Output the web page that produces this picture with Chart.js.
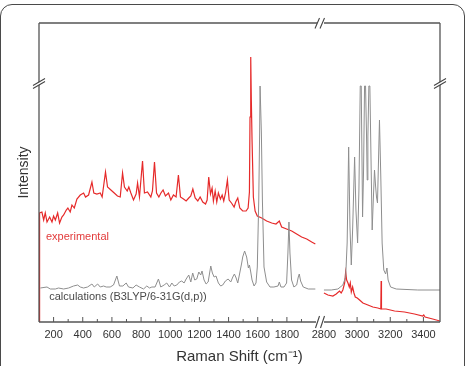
<!DOCTYPE html>
<html>
<head>
<meta charset="utf-8">
<script src="https://cdn.jsdelivr.net/npm/chart.js@4.4.0/dist/chart.umd.min.js"></script>
<style>
  html, body { margin: 0; padding: 0; background: #fff; overflow: hidden; }
  #wrap { position: relative; width: 467px; height: 366px; }
  #frame { position: absolute; left: 0; top: 4px; width: 463px; height: 390px;
           border: 1.5px solid #4a4a4a; border-radius: 12px; }
  canvas { position: absolute; left: 0; top: 0; }
</style>
</head>
<body>
<div id="wrap">
  <div id="frame"></div>
  <canvas id="chart" width="467" height="366"></canvas>
</div>
<script>
// Raman spectrum, broken x axis (100-2000 | 2800-3500), arbitrary intensity units

// experimental, low-wavenumber part
const expLeftX = [102,104,120,132,143,155,173,189,200,212,
  228,241,257,269,287,298,314,326,342,360,
  383,406,419,440,463,476,497,520,533,556,
  570,593,616,638,657,673,686,705,716,730,
  748,766,776,789,810,823,844,867,878,892,
  906,922,936,951,967,988,1004,1022,1040,1056,
  1070,1091,1109,1127,1141,1155,1171,1189,1205,1223,
  1242,1253,1264,1276,1287,1296,1308,1319,1330,1344,
  1356,1367,1379,1392,1404,1420,1438,1449,1463,1477,
  1497,1520,1534,1543,1547,1552,1556,1561,1570,1582,
  1597,1627,1661,1696,1725,1748,1764,1798,1833,1867,
  1901,1936,1970,1995];
const expLeftY = [0,109,110,102,109,100,105,100,106,102,
  109,99,105,107,112,114,110,117,114,123,
  127,129,125,127,140,129,128,129,125,150,
  135,132,129,126,125,149,135,131,135,129,
  122,128,139,125,161,129,130,125,131,160,
  129,125,129,132,126,129,122,127,125,147,
  125,123,121,124,126,133,124,121,125,120,
  118,122,145,128,134,121,131,120,129,123,
  127,121,129,142,122,119,115,120,124,114,
  111,111,114,130,205,265,222,182,125,111,
  106,104,101,99,98,101,95,93,91,88,
  85,83,80,78];

// experimental, C-H stretch part
const expRightX = [2800,2824,2854,2874,2894,2904,2914,2925,2931,2937,
  2945,2953,2959,2965,2973,2981,2989,3001,3015,3035,
  3065,3095,3125,3143,3145,3147,3175,3226,3286,3346,
  3396,3402,3410,3456,3500];
const expRightY = [29,27,26,28,31,29,32,39,50,42,
  39,35,39,30,35,29,25,24,22,19,
  17,15,14,13,41,13,13,11,10,8,
  6,7,5,3,1];

// calculated B3LYP/6-31G(d,p), low-wavenumber part
const calcLeftX = [109,155,177,212,234,269,303,337,365,383,
  406,433,463,479,502,520,543,561,588,611,
  634,652,675,698,714,744,766,789,817,839,
  858,874,896,919,935,958,976,995,1011,1027,
  1045,1063,1079,1095,1109,1127,1141,1154,1168,1182,
  1196,1209,1218,1232,1246,1260,1269,1278,1289,1301,
  1314,1330,1346,1360,1378,1397,1415,1429,1440,1452,
  1463,1474,1490,1497,1510,1524,1536,1543,1552,1561,
  1575,1588,1597,1607,1613,1616,1620,1625,1632,1643,
  1661,1684,1711,1739,1748,1759,1780,1798,1807,1814,
  1821,1832,1848,1867,1878,1885,1894,1912,1947,1995];
const calcLeftY = [34,35,33,33,34,33,34,36,37,35,
  34,35,38,35,38,35,36,35,35,37,
  46,36,36,39,35,34,37,35,33,36,
  34,35,35,43,35,37,39,35,39,36,
  37,40,41,39,43,47,40,49,42,43,
  50,47,51,42,38,40,48,56,49,45,
  46,39,36,37,41,43,40,45,48,44,
  39,47,59,65,71,65,54,57,50,42,
  36,39,55,122,189,236,236,189,122,55,
  40,35,35,36,40,35,35,39,69,100,
  69,42,35,37,45,48,41,35,33,33];

// calculated, C-H stretch part
const calcRightX = [2800,2844,2884,2914,2931,2940,2949,2957,2965,2973,
  2985,2993,3003,3011,3019,3025,3033,3039,3045,3051,
  3057,3061,3065,3071,3077,3085,3091,3097,3105,3111,
  3117,3123,3135,3143,3151,3161,3172,3180,3187,3202,
  3236,3366,3500];
const calcRightY = [32,32,33,37,45,79,175,95,57,92,
  165,112,79,132,236,236,105,152,236,236,
  185,142,185,236,236,152,92,119,152,137,
  125,119,202,145,79,52,48,54,42,35,
  33,32,32];

const tickLabels = [200,400,600,800,1000,1200,1400,1600,1800,2800,3000,3200,3400];
const minorTicks = [300,500,700,900,1100,1300,1500,1700,1900,2900,3100,3300];

const RED = '#e62a2a';
const GREY = '#8e8e8e';
const FONT = "'Liberation Sans', Arial, sans-serif";

// axis break: 2000 -> 2800 squeezed into a small gap, right part a bit wider per unit
const BREAK_LO = 2000, BREAK_HI = 2800, GAP = 54, RIGHT_K = 1.137;
function toAxis(x) {
  return x <= BREAK_LO ? x : BREAK_LO + GAP + (x - BREAK_HI) * RIGHT_K;
}
const X_MIN = 100, X_MAX = toAxis(3500);

function pts(xs, ys) {
  return xs.map((x, i) => ({ x: toAxis(x), y: ys[i] }));
}

function lineSet(label, data, color, width) {
  return {
    label: label,
    data: data,
    borderColor: color,
    borderWidth: width,
    pointRadius: 0,
    tension: 0,
    fill: false
  };
}

// frame, breaks, inward ticks and the two captions
const decorPlugin = {
  id: 'decor',
  afterDatasetsDraw(chart) {
    const ctx = chart.ctx;
    const a = chart.chartArea;
    const xs = chart.scales.x;
    const gx = (xs.getPixelForValue(BREAK_LO) + xs.getPixelForValue(BREAK_LO + GAP)) / 2;
    const yb = chart.scales.y.getPixelForValue(238);
    ctx.save();
    ctx.strokeStyle = '#555';
    ctx.lineWidth = 1.3;
    ctx.beginPath();
    ctx.moveTo(a.left, a.top); ctx.lineTo(a.left, a.bottom);
    ctx.moveTo(a.right, a.top); ctx.lineTo(a.right, a.bottom);
    ctx.moveTo(a.left, a.top); ctx.lineTo(gx - 3, a.top);
    ctx.moveTo(gx + 4, a.top); ctx.lineTo(a.right, a.top);
    ctx.moveTo(a.left, a.bottom); ctx.lineTo(gx - 4, a.bottom);
    ctx.moveTo(gx + 4, a.bottom); ctx.lineTo(a.right, a.bottom);
    ctx.stroke();

    // ticks pointing inward
    ctx.lineWidth = 1;
    ctx.beginPath();
    tickLabels.forEach(v => {
      if (v === BREAK_HI) return;
      const p = xs.getPixelForValue(toAxis(v));
      ctx.moveTo(p, a.bottom); ctx.lineTo(p, a.bottom - 5);
    });
    minorTicks.forEach(v => {
      const p = xs.getPixelForValue(toAxis(v));
      ctx.moveTo(p, a.bottom); ctx.lineTo(p, a.bottom - 3);
    });
    ctx.stroke();

    // x break slashes
    ctx.lineWidth = 1.1;
    ctx.strokeStyle = '#444';
    ctx.beginPath();
    [-2.5, 2.5].forEach(d => {
      ctx.moveTo(gx + d - 2.5, a.top + 5.5); ctx.lineTo(gx + d + 2, a.top - 5);
      ctx.moveTo(gx + d - 2, a.bottom + 6); ctx.lineTo(gx + d + 2, a.bottom - 6);
    });
    ctx.stroke();

    // y break marks on both side axes
    [a.left, a.right].forEach(x0 => {
      ctx.fillStyle = '#fff';
      ctx.beginPath();
      ctx.moveTo(x0 - 3, yb + 2.5); ctx.lineTo(x0 + 3, yb - 1);
      ctx.lineTo(x0 + 3, yb - 3.5); ctx.lineTo(x0 - 3, yb);
      ctx.closePath();
      ctx.fill();
      ctx.beginPath();
      ctx.moveTo(x0 - 6, yb + 4.5); ctx.lineTo(x0 + 6, yb - 2.5);
      ctx.moveTo(x0 - 6, yb + 1.5); ctx.lineTo(x0 + 6, yb - 5.5);
      ctx.stroke();
    });

    ctx.font = '11px ' + FONT;
    ctx.textBaseline = 'middle';
    ctx.fillStyle = '#e23a3a';
    ctx.fillText('experimental', xs.getPixelForValue(148), chart.scales.y.getPixelForValue(85));
    ctx.fillStyle = '#4a4a4a';
    ctx.fillText('calculations (B3LYP/6-31G(d,p))', xs.getPixelForValue(170), chart.scales.y.getPixelForValue(25));
    ctx.restore();
  }
};

new Chart(document.getElementById('chart'), {
  type: 'line',
  data: {
    datasets: [
      lineSet('calculations', pts(calcLeftX, calcLeftY), GREY, 1),
      lineSet('calculations', pts(calcRightX, calcRightY), GREY, 1),
      lineSet('experimental', pts(expLeftX, expLeftY), RED, 1.2),
      lineSet('experimental', pts(expRightX, expRightY), RED, 1.2)
    ]
  },
  options: {
    responsive: false,
    animation: false,
    devicePixelRatio: 1,
    layout: { padding: { top: 23, right: 27, left: 0, bottom: 0 } },
    plugins: { legend: { display: false }, tooltip: { enabled: false } },
    scales: {
      x: {
        type: 'linear',
        min: X_MIN,
        max: X_MAX,
        grid: { display: false, drawTicks: false },
        border: { display: false },
        afterBuildTicks: axis => {
          axis.ticks = tickLabels.map(v => ({ value: toAxis(v) }));
        },
        afterFit: s => { s.height = 44; },
        ticks: {
          autoSkip: false,
          maxRotation: 0,
          padding: 6,
          color: '#333',
          font: { family: FONT, size: 11 },
          callback: (v, i) => String(tickLabels[i])
        },
        title: {
          display: true,
          text: 'Raman Shift (cm\u207B\u00B9)',
          color: '#333',
          font: { family: FONT, size: 15 },
          padding: { top: -3, bottom: 0 }
        }
      },
      y: {
        min: 0,
        max: 299,
        grid: { display: false, drawTicks: false },
        border: { display: false },
        ticks: { display: false },
        afterFit: s => { s.width = 39; },
        title: {
          display: true,
          text: 'Intensity',
          color: '#333',
          font: { family: FONT, size: 14 },
          padding: { top: 16, bottom: 0 }
        }
      }
    }
  },
  plugins: [decorPlugin]
});
</script>
</body>
</html>
